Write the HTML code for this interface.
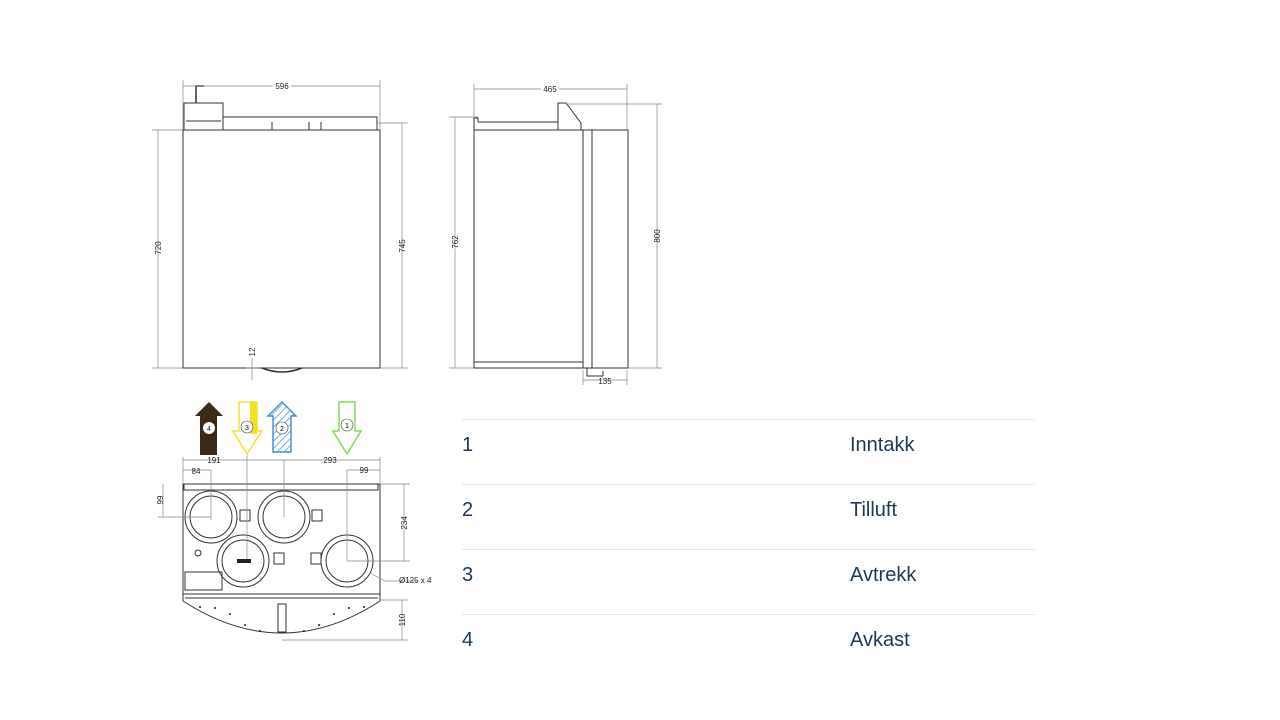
<!DOCTYPE html>
<html><head><meta charset="utf-8"><style>
html,body{margin:0;padding:0;background:#fff;width:1280px;height:720px;overflow:hidden}
svg{display:block}
.t{font-family:"Liberation Sans",sans-serif;fill:#203a55;font-size:20px}
.d{font-family:"Liberation Sans",sans-serif;font-size:8px;fill:#222}
</style></head><body>
<svg width="1280" height="720" viewBox="0 0 1280 720">
<defs>
<pattern id="h" width="5" height="5" patternUnits="userSpaceOnUse" patternTransform="rotate(45)"><line x1="0" y1="0" x2="0" y2="5" stroke="#4a8fe0" stroke-width="1.5"/></pattern>
</defs>
<g fill="none" stroke="#333" stroke-width="1">
<!-- front view -->
<rect x="183" y="130" width="197" height="238"/>
<rect x="184" y="103" width="39" height="27"/>
<line x1="186" y1="121" x2="221" y2="121"/>
<rect x="223" y="117" width="154" height="13"/>
<line x1="272" y1="122" x2="272" y2="130"/><line x1="309" y1="122" x2="309" y2="130"/><line x1="321" y1="122" x2="321" y2="130"/>
<path d="M196 103 V86 h8" stroke-width="1.5"/>
<path d="M262 368 q20 8 40 0" stroke-width="1.5"/>
<g stroke="#888" stroke-width="0.7">
<line x1="183" y1="86" x2="380" y2="86"/><line x1="183" y1="80" x2="183" y2="130"/><line x1="380" y1="80" x2="380" y2="130"/>
<line x1="158" y1="130" x2="158" y2="368"/><line x1="152" y1="130" x2="183" y2="130"/><line x1="152" y1="368" x2="183" y2="368"/>
<line x1="402" y1="123" x2="402" y2="368"/><line x1="377" y1="123" x2="408" y2="123"/><line x1="380" y1="368" x2="408" y2="368"/>
<line x1="252" y1="358" x2="252" y2="380"/>
<line x1="246" y1="368" x2="258" y2="368"/>
</g>
<!-- side view -->
<rect x="474" y="130" width="109" height="238"/>
<line x1="474" y1="362" x2="583" y2="362"/>
<rect x="583" y="130" width="45" height="238"/>
<line x1="592" y1="130" x2="592" y2="368"/>
<path d="M474 130 V118 h4 v4"/>
<line x1="478" y1="122" x2="558" y2="122"/>
<path d="M558 130 V103 l8 0 l15 20 V130"/>
<path d="M587 368 v8 h16 v-5"/>
<g stroke="#888" stroke-width="0.7">
<line x1="474" y1="89" x2="627" y2="89"/><line x1="474" y1="84" x2="474" y2="116"/><line x1="627" y1="84" x2="627" y2="130"/>
<line x1="455" y1="117" x2="455" y2="368"/><line x1="449" y1="117" x2="478" y2="117"/><line x1="449" y1="368" x2="474" y2="368"/>
<line x1="657" y1="104" x2="657" y2="368"/><line x1="566" y1="104" x2="662" y2="104"/><line x1="628" y1="368" x2="662" y2="368"/>
<line x1="583" y1="380" x2="627" y2="380"/><line x1="583" y1="370" x2="583" y2="385"/><line x1="627" y1="370" x2="627" y2="385"/>
</g>
<!-- bottom view -->
<rect x="183" y="484" width="197" height="110"/>
<rect x="184" y="484" width="194" height="6"/>
<path d="M183 594 L183 601 Q282 665 380 601 L380 594"/>
<line x1="185" y1="598" x2="378" y2="598"/>
<circle cx="211" cy="517" r="26"/><circle cx="211" cy="517" r="21"/>
<circle cx="284" cy="517" r="26"/><circle cx="284" cy="517" r="21"/>
<circle cx="243" cy="561" r="26"/><circle cx="243" cy="561" r="21"/>
<circle cx="347" cy="561" r="26"/><circle cx="347" cy="561" r="21"/>
<rect x="240" y="510" width="10" height="11"/><rect x="312" y="510" width="10" height="11"/>
<rect x="274" y="553" width="10" height="11"/><rect x="311" y="553" width="10" height="11"/>
<rect x="185" y="572" width="37" height="18"/>
<circle cx="198" cy="553" r="3"/>
<rect x="278" y="604" width="8" height="28"/>
<g stroke="#888" stroke-width="0.7">
<line x1="183" y1="460" x2="380" y2="460"/>
<line x1="183" y1="457" x2="183" y2="484"/><line x1="380" y1="457" x2="380" y2="484"/>
<line x1="183" y1="470" x2="211" y2="470"/><line x1="211" y1="470" x2="211" y2="520"/>
<line x1="247" y1="455" x2="247" y2="560"/><line x1="284" y1="460" x2="284" y2="517"/>
<line x1="347" y1="470" x2="380" y2="470"/><line x1="347" y1="470" x2="347" y2="561"/>
<line x1="163" y1="484" x2="163" y2="517"/><line x1="158" y1="517" x2="211" y2="517"/>
<line x1="404" y1="484" x2="404" y2="561"/><line x1="347" y1="561" x2="410" y2="561"/><line x1="380" y1="484" x2="410" y2="484"/>
<line x1="402" y1="600" x2="402" y2="640"/><line x1="380" y1="600" x2="408" y2="600"/><line x1="282" y1="640" x2="408" y2="640"/>
<line x1="370" y1="573" x2="385" y2="581"/><line x1="385" y1="581" x2="418" y2="581"/>
</g>
</g>
<g fill="#222">
<circle cx="200" cy="607" r="1"/><circle cx="215" cy="608" r="1"/><circle cx="230" cy="614" r="1"/><circle cx="245" cy="625" r="1"/><circle cx="260" cy="631" r="1"/><circle cx="304" cy="631" r="1"/><circle cx="319" cy="625" r="1"/><circle cx="334" cy="614" r="1"/><circle cx="349" cy="608" r="1"/><circle cx="364" cy="607" r="1"/>
<rect x="237" y="559" width="14" height="4"/>
</g>
<!-- arrows -->
<path d="M209 402 L223 416 L217 416 L217 455 L200 455 L200 416 L195 416 Z" fill="#3b2a15"/>
<circle cx="209" cy="428" r="6" fill="#fff"/>
<path d="M239 402 L257 402 L257 431 L262 431 L247 454 L233 431 L239 431 Z" fill="#fff" stroke="#f2e22a" stroke-width="1.5"/>
<rect x="250" y="402" width="7" height="32" fill="#f2e22a"/>
<circle cx="247" cy="427" r="6" fill="#fff" stroke="#444" stroke-width="0.6"/>
<path d="M282 402 L296 416 L291 416 L291 452 L273 452 L273 416 L268 416 Z" fill="url(#h)" stroke="#4a8fe0" stroke-width="1.5"/>
<circle cx="282" cy="428" r="6" fill="#fff" stroke="#444" stroke-width="0.6"/>
<path d="M339 402 L355 402 L355 431 L361 431 L347 454 L333 431 L339 431 Z" fill="#fff" stroke="#7be04e" stroke-width="1.5"/>
<circle cx="347" cy="425" r="6" fill="#fff" stroke="#444" stroke-width="0.6"/>
<g font-family="Liberation Sans,sans-serif" font-size="7" text-anchor="middle">
<text x="209" y="431" fill="#222">4</text><text x="247" y="430">3</text><text x="282" y="431">2</text><text x="347" y="428">1</text>
</g>
<!-- dimension labels -->
<g class="d" text-anchor="middle">
<rect x="273" y="81" width="18" height="9" fill="#fff"/><text x="282" y="89">596</text>
<rect x="541" y="84" width="18" height="9" fill="#fff"/><text x="550" y="92">465</text>
<text x="605" y="384">135</text>
<text x="214" y="463">191</text><text x="196" y="474">84</text>
<text x="330" y="463">293</text><text x="364" y="473">99</text>
<text x="399" y="583" text-anchor="start" x="389">Ø125 x 4</text>
<text transform="translate(161,248) rotate(-90)">720</text>
<text transform="translate(405,246) rotate(-90)">745</text>
<text transform="translate(255,352) rotate(-90)">12</text>
<text transform="translate(458,242) rotate(-90)">762</text>
<text transform="translate(660,236) rotate(-90)">800</text>
<text transform="translate(163,500) rotate(-90)">99</text>
<text transform="translate(407,523) rotate(-90)">234</text>
<text transform="translate(405,620) rotate(-90)">110</text>
</g>
<!-- table -->
<g stroke="#e3e6ea" stroke-width="1">
<line x1="462" y1="419.5" x2="1035" y2="419.5"/><line x1="462" y1="484.5" x2="1035" y2="484.5"/>
<line x1="462" y1="549.5" x2="1035" y2="549.5"/><line x1="462" y1="614.5" x2="1035" y2="614.5"/>
</g>
<g class="t">
<text x="462" y="451">1</text><text x="850" y="451">Inntakk</text>
<text x="462" y="516">2</text><text x="850" y="516">Tilluft</text>
<text x="462" y="581">3</text><text x="850" y="581">Avtrekk</text>
<text x="462" y="646">4</text><text x="850" y="646">Avkast</text>
</g>
</svg>
</body></html>
